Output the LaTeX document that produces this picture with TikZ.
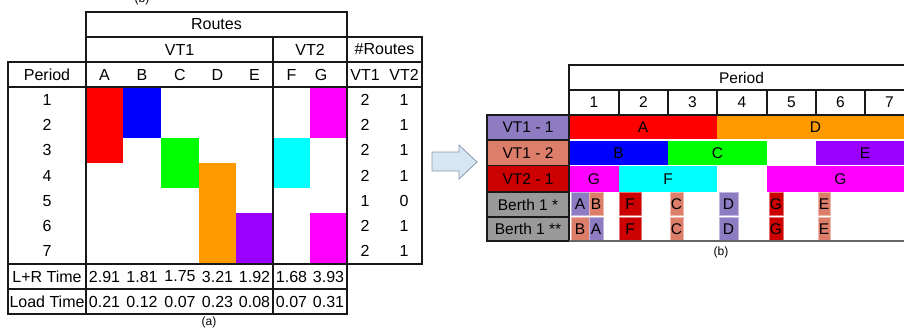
\documentclass[tikz,border=0pt]{standalone}
\usepackage{fontspec}
\setmainfont{Liberation Sans}
\definecolor{cRed}{HTML}{FF0000}
\definecolor{cBlue}{HTML}{0000FF}
\definecolor{cGreen}{HTML}{00FF00}
\definecolor{cOrange}{HTML}{FF9900}
\definecolor{cPurple}{HTML}{9900FF}
\definecolor{cCyan}{HTML}{00FFFF}
\definecolor{cMagenta}{HTML}{FF00FF}
\definecolor{lPurple}{HTML}{8E7CC3}
\definecolor{lSalmon}{HTML}{DD7E6B}
\definecolor{lDark}{HTML}{CC0000}
\definecolor{lGray}{HTML}{999999}
\definecolor{arrowFill}{HTML}{D6E6F5}
\definecolor{arrowLine}{HTML}{8A9AAA}
\newcommand\lcell[5]{\fill[#1] (#2,{87+25.29*(#4-1)}) rectangle (#3,{87+25.29*#5});}
\newcommand\rbar[7]{\fill[#2] (#3,#5) rectangle (#4,#6); \node[t15] (#1) at ({(#3+#4)/2},{(#5+#6)/2}) {#7};}
\newcommand\bbx[7]{\filldraw[fill=#2,draw=#2!55!white,line width=0.8pt] (#3,#5) rectangle (#4,#6); \node[t15] (#1) at ({(#3+#4)/2},{(#5+#6)/2}) {#7};}
\begin{document}
\begin{tikzpicture}[x=1pt,y=-1pt,
  grid/.style={line width=1.2pt,draw=black!90,line cap=rect},
  t16/.style={font=\fontsize{16}{19}\selectfont,inner sep=0pt},
  t15/.style={font=\fontsize{15.5}{18}\selectfont,inner sep=0pt},
  captxt/.style={font=\fontsize{12}{14}\selectfont,inner sep=0pt}]
\useasboundingbox (0,0) rectangle (904,332);
\clip (0,0) rectangle (904,332);

% clipped caption fragment at top
\node[captxt,anchor=base] (topcap) at (142,2) {(b)};

% ---------- left table: coloured cells ----------
\lcell{cRed}{86}{123}{1}{3}
\lcell{cBlue}{123}{161}{1}{2}
\lcell{cGreen}{161}{199}{3}{4}
\lcell{cOrange}{199}{236}{4}{7}
\lcell{cPurple}{236}{273}{6}{7}
\lcell{cCyan}{273}{310}{3}{4}
\lcell{cMagenta}{310}{347}{1}{2}
\lcell{cMagenta}{310}{347}{6}{7}

% ---------- left table: rules ----------
\draw[grid] (86,12) -- (347,12);
\draw[grid] (86,37) -- (422,37);
\draw[grid] (8,62) -- (422,62);
\draw[grid] (8,87) -- (422,87);
\draw[grid] (8,264) -- (422,264);
\draw[grid] (8,289) -- (347,289);
\draw[grid] (8,314) -- (347,314);
\draw[grid] (8,62) -- (8,314);
\draw[grid] (86,12) -- (86,314);
\draw[grid] (273,37) -- (273,314);
\draw[grid] (347,12) -- (347,314);
\draw[grid] (422,37) -- (422,264);

% ---------- left table: texts ----------
\node[t16] (routes) at (216.5,24.5) {Routes};
\node[t16] (vt1) at (179.5,49.5) {VT1};
\node[t16] (vt2) at (310,49.5) {VT2};
\node[t16] (nroutes) at (384.5,49.5) {\#Routes};
\node[t16] (period) at (47,74.5) {Period};
\foreach \n/\x in {A/104.5,B/142,C/180,D/217.5,E/254.5,F/291.5,G/321}
  \node[t16] (h\n) at (\x,74.5) {\n};
\node[t16] (nv1) at (365,74.5) {VT1};
\node[t16] (nv2) at (404,74.5) {VT2};
\foreach \i/\a/\b in {1/2/1,2/2/1,3/2/1,4/2/1,5/1/0,6/2/1,7/2/1} {
  \node[t16] (p\i) at (47,{87+25.29*(\i-0.5)}) {\i};
  \node[t16] (na\i) at (365,{87+25.29*(\i-0.5)}) {\a};
  \node[t16] (nb\i) at (404,{87+25.29*(\i-0.5)}) {\b};
}
\node[t16] (lr) at (47,276.5) {L+R Time};
\node[t16] (lt) at (47,301.5) {Load Time};
\foreach \k/\x/\u/\v in {1/104.5/2.91/0.21,2/142/1.81/0.12,3/180/1.75/0.07,4/217.5/3.21/0.23,5/254.5/1.92/0.08,6/291.5/1.68/0.07,7/328.5/3.93/0.31} {
  \node[t16] (lrv\k) at (\x,276.5) {\u};
  \node[t16] (ltv\k) at (\x,301.5) {\v};
}
\node[captxt] (capa) at (209,322) {(a)};

% ---------- arrow ----------
\draw[fill=arrowFill,draw=arrowLine,line width=0.8pt,line join=miter]
  (432,152) -- (459,152) -- (459,145) -- (477,162) -- (459,179) -- (459,171) -- (432,171) -- cycle;

% ---------- right table: label column ----------
\fill[lPurple] (487,115) rectangle (569,140);
\fill[lSalmon] (487,140) rectangle (569,165.5);
\fill[lDark] (487,165.5) rectangle (569,192);
\fill[lGray] (487,192) rectangle (569,241);
\node[t15] (l1) at (528,127.5) {VT1 - 1};
\node[t15] (l2) at (528,152.8) {VT1 - 2};
\node[t15] (l3) at (528,178.8) {VT2 - 1};
\node[t15] (l4) at (528,204.5) {Berth 1 *};
\node[t15] (l5) at (528,229) {Berth 1 **};

% ---------- right table: bars ----------
\rbar{bA}{cRed}{569}{717}{115.6}{139.4}{A}
\rbar{bD}{cOrange}{717}{914}{115.6}{139.4}{D}
\rbar{bB}{cBlue}{569}{668}{140.6}{164.9}{B}
\rbar{bC}{cGreen}{668}{767}{140.6}{164.9}{C}
\rbar{bE}{cPurple}{816}{914}{140.6}{164.9}{E}
\rbar{bG1}{cMagenta}{569}{619}{166.1}{191.5}{G}
\rbar{bF}{cCyan}{619}{717}{166.1}{191.5}{F}
\rbar{bG2}{cMagenta}{767}{914}{166.1}{191.5}{G}

% ---------- right table: berth boxes ----------
\bbx{s1A}{lPurple}{571}{589}{192.5}{215.5}{A}
\bbx{s1B}{lSalmon}{589}{603}{192.5}{215.5}{B}
\bbx{s2B}{lSalmon}{571}{589}{217.5}{240}{B}
\bbx{s2A}{lPurple}{589}{603}{217.5}{240}{A}
\foreach \r/\ya/\yb in {1/192.5/215.5,2/217.5/240} {
  \bbx{s\r F}{lDark}{619}{641}{\ya}{\yb}{F}
  \bbx{s\r C}{lSalmon}{670}{683}{\ya}{\yb}{C}
  \bbx{s\r D}{lPurple}{719}{738}{\ya}{\yb}{D}
  \bbx{s\r G}{lDark}{769}{783}{\ya}{\yb}{G}
  \bbx{s\r E}{lSalmon}{818}{830}{\ya}{\yb}{E}
}

% ---------- right table: rules ----------
\draw[grid] (569,65) -- (914,65);
\draw[grid] (569,90) -- (914,90);
\draw[grid] (487,115) -- (914,115);
\draw[grid] (569,65) -- (569,241);
\foreach \x in {619,668,717,767,816,865} \draw[grid] (\x,90) -- (\x,115);
\draw[grid] (487,115) -- (487,241);
\foreach \y in {140,165.5,192,217} \draw[grid] (487,\y) -- (569,\y);
\draw[grid] (487,241) -- (569,241);
\draw[line width=1.2pt,draw=black!60] (569,241) -- (914,241);

% ---------- right table: header texts ----------
\node[t15] (rperiod) at (741.5,77.5) {Period};
\foreach \i/\x in {1/594,2/643.5,3/692.5,4/742,5/791.5,6/840.5,7/889.5}
  \node[t15] (c\i) at (\x,102.5) {\i};
\node[captxt] (capb) at (721,252) {(b)};
\end{tikzpicture}
\end{document}
